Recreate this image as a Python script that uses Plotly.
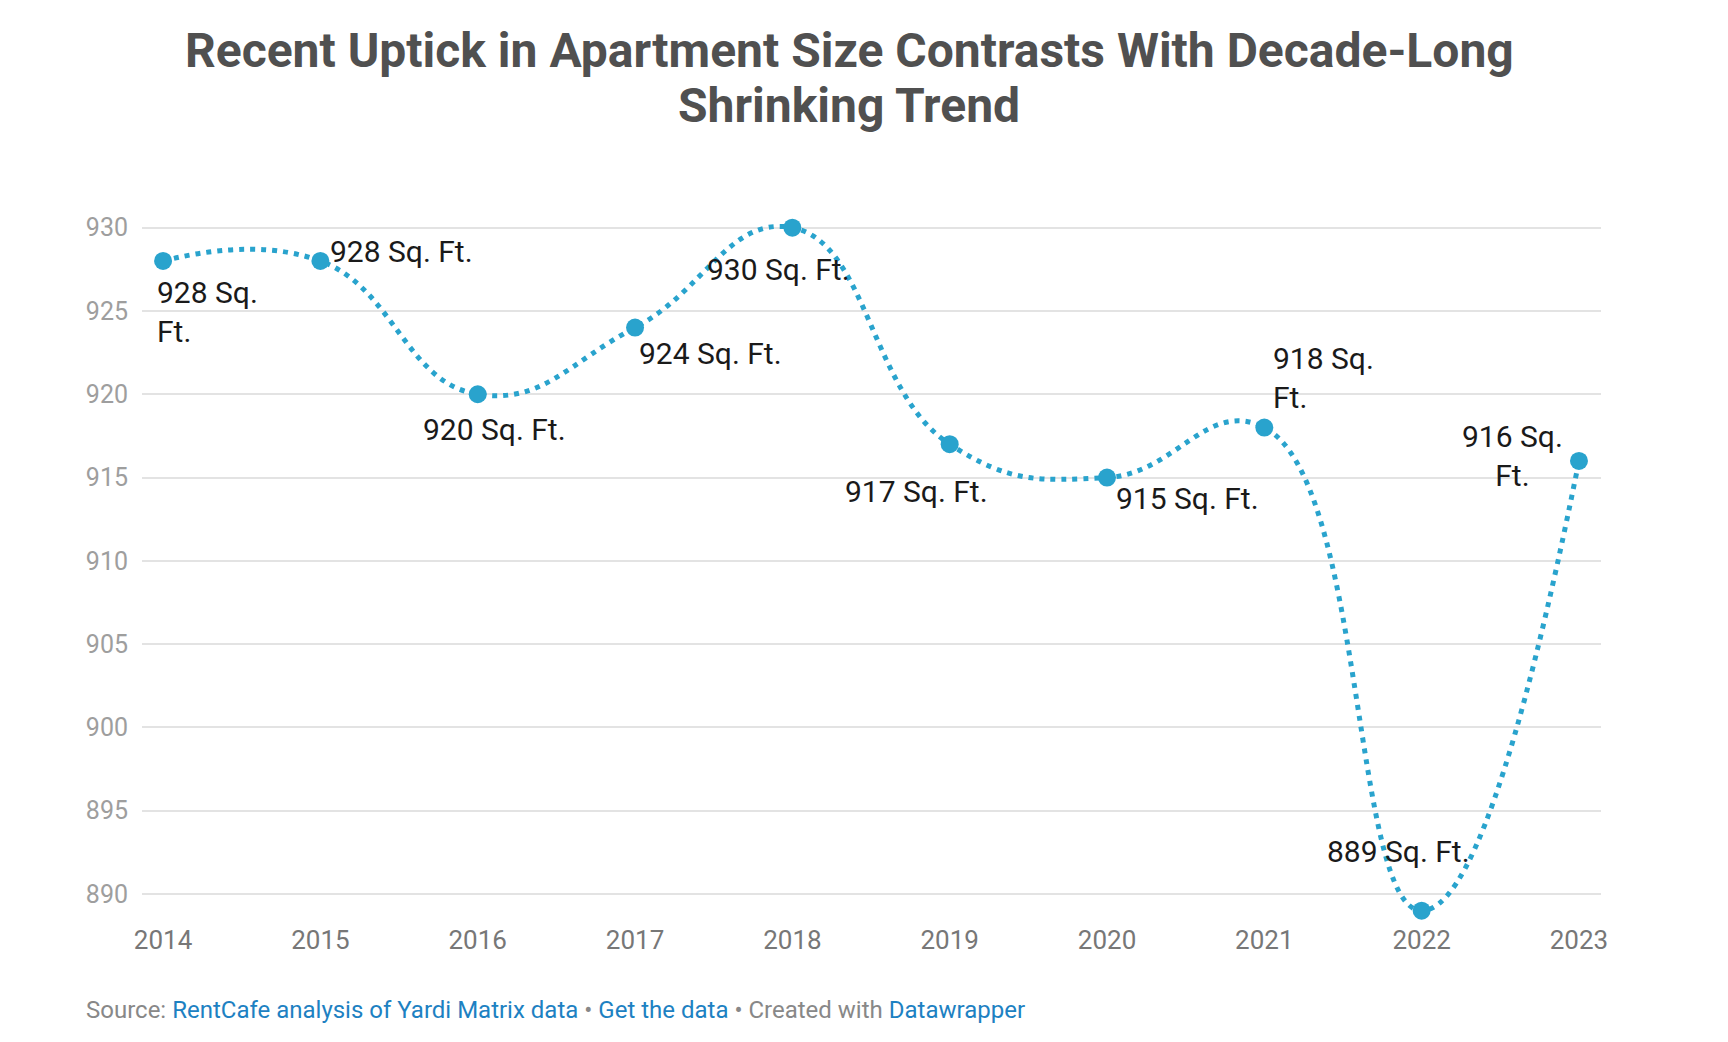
import plotly.graph_objects as go

years = [2014, 2015, 2016, 2017, 2018, 2019, 2020, 2021, 2022, 2023]
sizes = [928, 928, 920, 924, 930, 917, 915, 918, 889, 916]
labels = ["928 Sq.<br>Ft.", "928 Sq. Ft.", "920 Sq. Ft.", "924 Sq. Ft.", "930 Sq. Ft.",
          "917 Sq. Ft.", "915 Sq. Ft.", "918 Sq.<br>Ft.", "889 Sq. Ft.", "916 Sq.<br>Ft."]
y_ticks = [890, 895, 900, 905, 910, 915, 920, 925, 930]
title_lines = ["Recent Uptick in Apartment Size Contrasts With Decade-Long", "Shrinking Trend"]

# label placement (xanchor, yanchor, xshift, yshift, align)
placement = [
    ("left", "middle", -8, -51, "left"),
    ("left", "middle", 8, 9, "left"),
    ("center", "middle", 17, -35, "center"),
    ("left", "middle", 2, -26, "left"),
    ("center", "middle", -14, -42, "center"),
    ("right", "middle", 40, -47, "left"),
    ("left", "middle", 7, -21, "left"),
    ("left", "middle", 7, 50, "left"),
    ("center", "middle", -23, 59, "center"),
    ("center", "middle", -66, 5, "center"),
]

BLUE = "#29a3cd"

fig = go.Figure()
fig.add_trace(go.Scatter(
    x=years, y=sizes, mode="lines+markers",
    line=dict(color=BLUE, width=5, dash="5px,6px", shape="spline", smoothing=1.3),
    marker=dict(color=BLUE, size=18),
    cliponaxis=False,
    hoverinfo="x+y", showlegend=False,
))

annotations = []
for yr, v, lab, (xa, ya, xs, ys, al) in zip(years, sizes, labels, placement):
    annotations.append(dict(
        x=yr, y=v, xref="x", yref="y", text=lab, showarrow=False,
        xanchor=xa, yanchor=ya, xshift=xs, yshift=ys, align=al,
        font=dict(family="Roboto", size=30, color="#1a1a1a"),
    ))

# plot area in figure pixels (page body adds 8px offset)
PL, PR, PT, PB = 134, 1593, 203, 911
PW, PH = PR - PL, PB - PT

def px(xf):
    return (xf - PL) / PW

def py(yf):
    return (PB - yf) / PH

for line, yc in zip(title_lines, [42, 98]):
    annotations.append(dict(
        x=px(841), y=py(yc), xref="paper", yref="paper", text=line,
        showarrow=False, xanchor="center", yanchor="middle",
        font=dict(family="Roboto", size=48, color="#505050", weight=700),
    ))

annotations.append(dict(
    x=px(76), y=py(1002), xref="paper", yref="paper",
    text=("Source: <span style='color:#1d81c2'>RentCafe analysis of Yardi Matrix data</span>"
          " • <span style='color:#1d81c2'>Get the data</span> • Created with "
          "<span style='color:#1d81c2'>Datawrapper</span>"),
    showarrow=False, xanchor="left", yanchor="middle",
    font=dict(family="Roboto", size=24, color="#888888"),
))

fig.update_layout(
    width=1728, height=1042,
    margin=dict(l=PL, r=1728 - PR, t=PT, b=1042 - PB),
    paper_bgcolor="white", plot_bgcolor="white",
    xaxis=dict(
        range=[2013.866, 2023.14], tickmode="array", tickvals=years,
        ticktext=[str(y) for y in years], showgrid=False, zeroline=False,
        showline=False, ticks="", ticklabelstandoff=3,
        tickfont=dict(family="Roboto", size=26, color="#777777"),
    ),
    yaxis=dict(
        range=[888.5, 931], tickmode="array", tickvals=y_ticks,
        showgrid=True, gridcolor="#e3e3e3", gridwidth=1.5, zeroline=False,
        showline=False, ticks="", ticklabelstandoff=13,
        tickfont=dict(family="Roboto", size=25, color="#9e9e9e"),
    ),
    annotations=annotations,
    font=dict(family="Roboto"),
)

fig.write_html("out.html", config={"displayModeBar": False})
